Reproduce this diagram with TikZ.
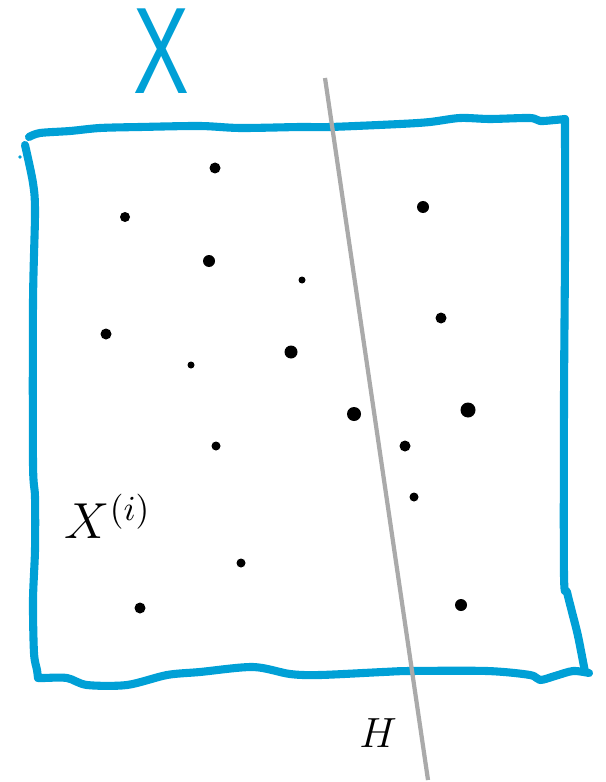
\documentclass[tikz,border=0pt]{standalone}
\usepackage{amsmath,amssymb}
\usepackage{fontspec}
\usepackage{tikz}
\usetikzlibrary{calc,positioning}
\usepackage{xcolor}
\definecolor{myblue}{RGB}{0,160,214}
\definecolor{mygray}{RGB}{170,170,170}
\newfontfamily\handfont{Liberation Sans}

\begin{document}
\begin{tikzpicture}[x=0.01cm,y=-0.01cm,
    edge/.style={myblue, line width=2.3pt, line cap=round, line join=round},
    pt/.style={black}]
  \useasboundingbox (0,0) rectangle (605,782);

  % set X
  \node[myblue, xscale=0.68, inner sep=0] (setname) at (161,51) {\handfont\fontsize{35}{35}\selectfont X};

  % box
  \draw[edge] plot[smooth, tension=0.5] coordinates {(29,137) (40,133) (70,131) (100,128) (140,127) (200,126) (240,128) (300,127) (330,127) (400,124) (430,122) (460,118) (490,119) (530,118) (540,121) (555,120) (565,119)};
  \draw[edge] plot[smooth, tension=0.5] coordinates {(565,119) (565,250) (564,400) (564,575) (567,592) (572,612) (578,636) (585,672)};
  \draw[edge] plot[smooth, tension=0.5] coordinates {(589,673) (573,671) (555,676) (540,680) (530,675) (487,671) (410,671) (383,672) (320,675) (290,674) (253,667) (200,672) (167,675) (127,685) (87,685) (67,678) (43,678) (38,678)};
  \draw[edge] plot[smooth, tension=0.5] coordinates {(38,678) (37,670) (34,653) (33,600) (35,550) (35,497) (33,463) (33,303) (35,213) (33,183) (25,145)};
  \fill[myblue] (20,157) circle (1.8);

  % samples
  \foreach \px/\py/\r in {215/168/5.5, 125/217/5, 209/261/6, 302/280/3.5, 423/207/6, 441/318/5.5,
      106/334/5.5, 291/352/6.5, 191/365/3.5, 354/414/7, 468/410/7.5, 216/446/4.5, 405/446/5.5,
      414/497/4.5, 241/563/4.5, 140/608/5.5, 461/605/6}
    \fill[pt] (\px,\py) circle (\r);

  % hyperplane
  \coordinate (Htop) at (325,78);
  \coordinate (Hbot) at (428,780);
  \draw[mygray, line width=1.2pt] (Htop) -- (Hbot);
  \node (hname) at (378,733) {\fontsize{12.5}{12.5}\selectfont$H$};

  \node (subset) at (108,516) {\fontsize{14.5}{14.5}\selectfont$X^{(i)}$};
\end{tikzpicture}
\end{document}
